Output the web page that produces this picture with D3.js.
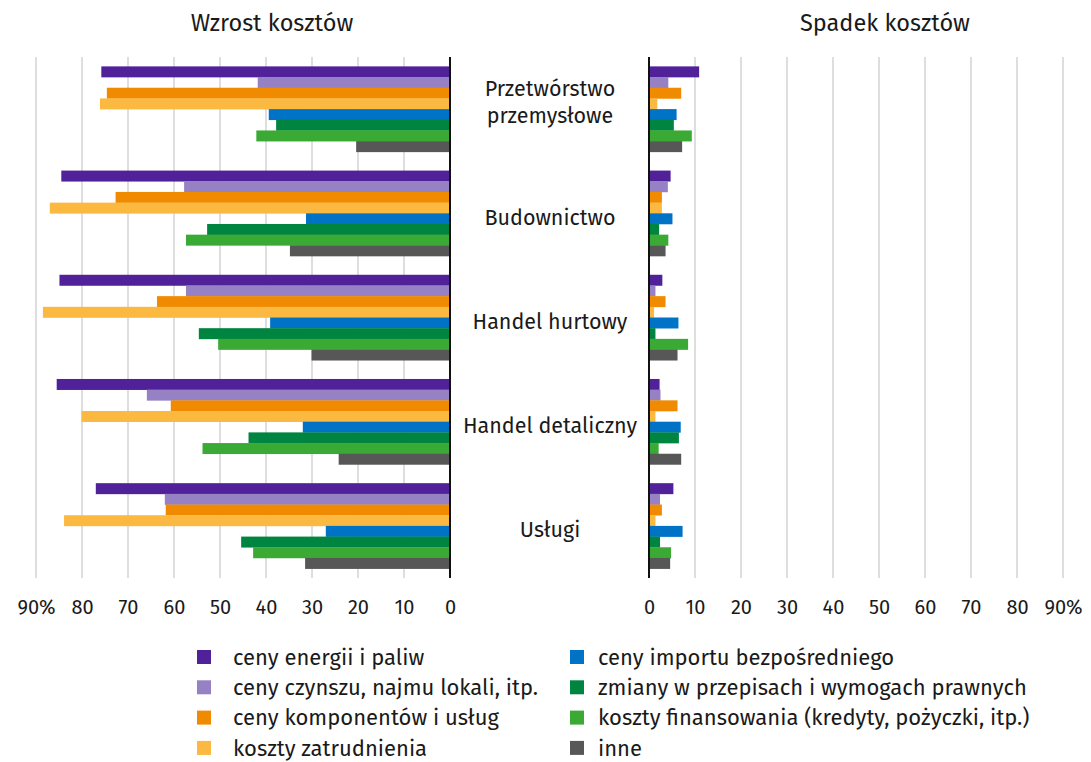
<!DOCTYPE html>
<html><head><meta charset="utf-8">
<script src="https://cdn.jsdelivr.net/npm/d3@7"></script>
<style>
body{margin:0;background:#fff;}
text{font-family:"Fira Sans",Roboto,"Noto Sans",sans-serif;fill:#1a1a1a;}
</style></head>
<body><svg id="c" width="1091" height="762"></svg>
<script>
const categories = ["Przetwórstwo przemysłowe","Budownictwo","Handel hurtowy","Handel detaliczny","Usługi"];
const seriesNames = ["ceny energii i paliw","ceny czynszu, najmu lokali, itp.","ceny komponentów i usług","koszty zatrudnienia","ceny importu bezpośredniego","zmiany w przepisach i wymogach prawnych","koszty finansowania (kredyty, pożyczki, itp.)","inne"];
const colors = ["#51219a","#9581c4","#f08a00","#fbb942","#0073c6","#008540","#3aaa35","#575757"];
// Wzrost kosztów (%), per category, series order as above
const increase = [
  [75.8,41.8,74.6,76.1,39.4,37.8,42.1,20.4],
  [84.5,57.8,72.7,87.0,31.3,52.8,57.4,34.8],
  [84.9,57.4,63.7,88.5,39.1,54.6,50.4,30.1],
  [85.5,65.9,60.7,80.1,32.0,43.8,53.8,24.2],
  [77.0,62.0,61.8,83.9,27.0,45.4,42.8,31.5]
];
// Spadek kosztów (%)
const decrease = [
  [10.9,4.2,7.0,1.8,6.0,5.4,9.3,7.2],
  [4.7,4.1,2.8,2.8,5.1,2.2,4.2,3.6],
  [2.9,1.4,3.6,1.1,6.4,1.4,8.5,6.2],
  [2.3,2.5,6.2,1.4,6.9,6.5,2.1,7.0],
  [5.3,2.4,2.8,1.4,7.3,2.4,4.8,4.6]
];
const ticks = [0,10,20,30,40,50,60,70,80,90];
const tickLabel = d => d===90 ? "90%" : String(d);

const svg = d3.select("#c");
const plotTop = 57, plotBottom = 578;
const y0 = d3.scaleBand().domain(categories).range([plotTop,plotBottom]).paddingInner(0.18).paddingOuter(0.09);
const y1 = d3.scaleBand().domain(d3.range(seriesNames.length)).range([0,y0.bandwidth()]);
const xL = d3.scaleLinear().domain([0,90]).range([450,36]);
const xR = d3.scaleLinear().domain([0,90]).range([649,1063]);

function panel(x, data, title, titleX){
  const g = svg.append("g");
  g.selectAll("line.grid").data(ticks.slice(1)).enter().append("line")
    .attr("x1",d=>x(d)).attr("x2",d=>x(d)).attr("y1",plotTop).attr("y2",plotBottom)
    .attr("stroke","#d3d3d3").attr("stroke-width",1.5);
  categories.forEach((c,ci)=>{
    g.selectAll(null).data(data[ci]).enter().append("rect")
      .attr("x",d=>Math.min(x(0),x(d))).attr("width",d=>Math.abs(x(d)-x(0)))
      .attr("y",(d,i)=>y0(c)+y1(i)).attr("height",y1.bandwidth()+0.3)
      .attr("fill",(d,i)=>colors[i]);
  });
  g.append("line").attr("x1",x(0)).attr("x2",x(0)).attr("y1",plotTop).attr("y2",plotBottom)
    .attr("stroke","#111").attr("stroke-width",2);
  const ax = d3.axisBottom(x).tickValues(ticks).tickFormat(tickLabel).tickSize(0).tickPadding(0);
  const ag = g.append("g").attr("transform",`translate(0,${plotBottom})`).call(ax);
  ag.select(".domain").remove();
  ag.selectAll("text").attr("y",36).attr("dy",0).style("font-size","20px").style("fill","#1a1a1a")
    .style("font-family",'"Fira Sans",Roboto,"Noto Sans",sans-serif');
  svg.append("text").attr("x",titleX).attr("y",31).attr("text-anchor","middle")
    .style("font-size","23.5px").text(title);
}
panel(xL, increase, "Wzrost kosztów", 272);
panel(xR, decrease, "Spadek kosztów", 885);

categories.forEach(c=>{
  const cy = y0(c)+y0.bandwidth()/2;
  const t = svg.append("text").attr("x",550).attr("text-anchor","middle").style("font-size","21.5px");
  if(c==="Przetwórstwo przemysłowe"){
    t.append("tspan").attr("x",550).attr("y",cy-21).attr("dy","0.35em").text("Przetwórstwo");
    t.append("tspan").attr("x",550).attr("y",cy+6).attr("dy","0.35em").text("przemysłowe");
  } else {
    t.attr("y",cy+4).attr("dy","0.35em").text(c);
  }
});

const leg = svg.append("g");
seriesNames.forEach((s,i)=>{
  const col = Math.floor(i/4), row = i%4;
  const lx = col===0 ? 197 : 570, tx = col===0 ? 233 : 598, ly = 657 + row*30.3;
  leg.append("rect").attr("x",lx).attr("y",ly-7).attr("width",14).attr("height",14).attr("fill",colors[i]);
  leg.append("text").attr("x",tx).attr("y",ly).attr("dy","0.35em").style("font-size","22px").text(s);
});
</script></body></html>
